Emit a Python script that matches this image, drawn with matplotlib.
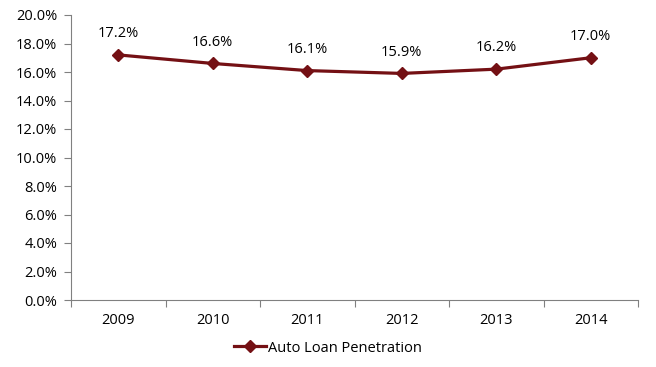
import matplotlib
matplotlib.use("Agg")
import matplotlib.pyplot as plt
from matplotlib.ticker import FuncFormatter, MultipleLocator

years = ["2009", "2010", "2011", "2012", "2013", "2014"]
penetration = [17.2, 16.6, 16.1, 15.9, 16.2, 17.0]
labels = ["17.2%", "16.6%", "16.1%", "15.9%", "16.2%", "17.0%"]

plt.rcParams['font.family'] = ['Open Sans', 'DejaVu Sans']
color = '#741014'
fs = 10.5

fig = plt.figure(figsize=(6.56, 3.67), dpi=100)
ax = fig.add_axes([71/656, 1-300/367, (638-71)/656, (300-15)/367])
x = list(range(len(years)))
ax.plot(x, penetration, color=color, lw=2.3, marker='D', ms=6, label='Auto Loan Penetration')
for xi, v, t in zip(x, penetration, labels):
    ax.annotate(t, (xi, v), xytext=(0, 10), textcoords='offset points', ha='center', va='bottom', fontsize=fs)

ax.set_xlim(-0.5, len(years)-0.5)
ax.set_ylim(0, 20)
ax.yaxis.set_major_locator(MultipleLocator(2))
ax.yaxis.set_major_formatter(FuncFormatter(lambda v, p: f"{v:.1f}%"))
ax.set_xticks([i - 0.5 for i in range(len(years)+1)], minor=False)
ax.set_xticklabels([])
ax.set_xticks(x, minor=True)
ax.set_xticklabels(years, minor=True)
ax.tick_params(axis='x', which='minor', length=0, pad=9, labelsize=fs)
ax.tick_params(axis='x', which='major', length=5, color='#808080', direction='out')
ax.tick_params(axis='y', length=5, color='#808080', labelsize=fs, pad=5)
for s in ['top', 'right']:
    ax.spines[s].set_visible(False)
for s in ['left', 'bottom']:
    ax.spines[s].set_color('#808080')

fig.legend(loc='center', bbox_to_anchor=(0.5, 1-348/367), frameon=False, fontsize=fs,
           handlelength=2.2, handletextpad=0.1)
fig.savefig('out.png', dpi=100)
